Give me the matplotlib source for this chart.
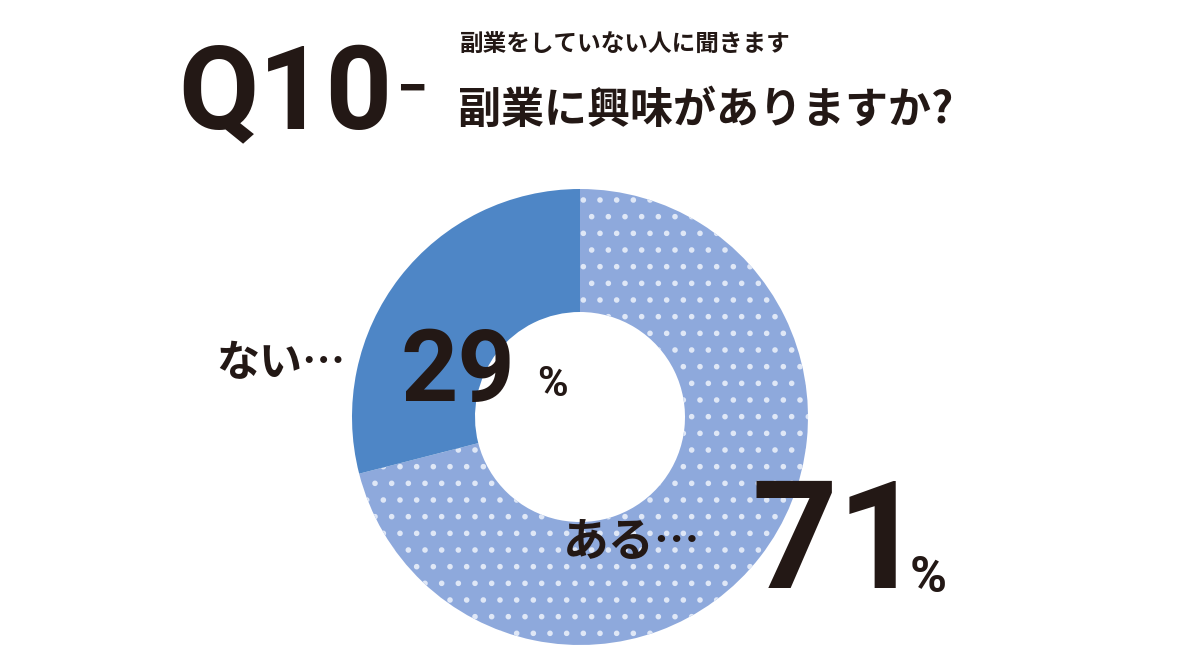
import matplotlib.pyplot as plt

plt.rcParams['font.family'] = ['Noto Sans CJK JP', 'DejaVu Sans']
plt.rcParams['hatch.color'] = '#dfe7f6'
plt.rcParams['hatch.linewidth'] = 1.6

labels = ['ある', 'ない']
values = [71, 29]
colors = ['#8ea9dc', '#4e86c6']
hatches = ['.', None]

fig = plt.figure(figsize=(12, 6.6), dpi=100)
ax = fig.add_axes([0, 0, 1, 1])

wedges, _ = ax.pie(values, center=(580, 243), radius=228, startangle=90, counterclock=False,
                   colors=colors, wedgeprops=dict(width=123, linewidth=0))
for w, h in zip(wedges, hatches):
    if h:
        w.set_hatch(h)
ax.set_xlim(0, 1200)
ax.set_ylim(0, 660)
ax.set_aspect('equal')
ax.axis('off')

ink = '#231815'
num = 'Roboto'
ax.text(178, 563, 'Q10', fontsize=84, fontweight='bold', color=ink, va='center', ha='left', family=num)
ax.text(396, 568, '−', fontsize=40, fontweight='bold', color=ink, va='center', ha='left', family=num)
ax.text(460, 615, '副業をしていない人に聞きます', fontsize=17, fontweight='bold', color=ink, va='center')
ax.text(458, 550, '副業に興味がありますか?', fontsize=31, fontweight='bold', color=ink, va='center')

ax.text(216, 297, f'{labels[1]}…', fontsize=31, fontweight='bold', color=ink, va='center')
ax.text(400, 287, f'{values[1]}', fontsize=72, fontweight='bold', color=ink, va='center', family=num)
ax.text(537, 275, '%', fontsize=30, fontweight='bold', color=ink, va='center', family=num)

ax.text(563, 117, f'{labels[0]}…', fontsize=33, fontweight='bold', color=ink, va='center')
ax.text(752, 113, f'{values[0]}', fontsize=108, fontweight='bold', color=ink, va='center', family=num)
ax.text(910, 82, '%', fontsize=36, fontweight='bold', color=ink, va='center', family=num)

fig.savefig('out.png', dpi=100, facecolor='white')
